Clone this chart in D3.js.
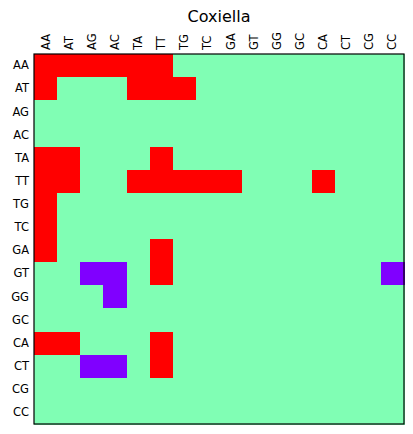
<!DOCTYPE html>
<html>
<head>
<meta charset="utf-8">
<script src="https://cdn.jsdelivr.net/npm/d3@7"></script>
<style>
  body { margin: 0; background: #fff; }
  text { font-family: "DejaVu Sans", sans-serif; fill: #000; }
</style>
</head>
<body>
<div id="chart"></div>
<script>
// Dinucleotide labels (same on both axes)
const labels = ["AA", "AT", "AG", "AC", "TA", "TT", "TG", "TC",
                "GA", "GT", "GG", "GC", "CA", "CT", "CG", "CC"];

// Matrix values: 1 = red, 0 = green, -1 = purple (one row per label)
const matrix = [
    [1, 1, 1, 1, 1, 1, 0, 0, 0, 0, 0, 0, 0, 0, 0, 0],
    [1, 0, 0, 0, 1, 1, 1, 0, 0, 0, 0, 0, 0, 0, 0, 0],
    [0, 0, 0, 0, 0, 0, 0, 0, 0, 0, 0, 0, 0, 0, 0, 0],
    [0, 0, 0, 0, 0, 0, 0, 0, 0, 0, 0, 0, 0, 0, 0, 0],
    [1, 1, 0, 0, 0, 1, 0, 0, 0, 0, 0, 0, 0, 0, 0, 0],
    [1, 1, 0, 0, 1, 1, 1, 1, 1, 0, 0, 0, 1, 0, 0, 0],
    [1, 0, 0, 0, 0, 0, 0, 0, 0, 0, 0, 0, 0, 0, 0, 0],
    [1, 0, 0, 0, 0, 0, 0, 0, 0, 0, 0, 0, 0, 0, 0, 0],
    [1, 0, 0, 0, 0, 1, 0, 0, 0, 0, 0, 0, 0, 0, 0, 0],
    [0, 0, -1, -1, 0, 1, 0, 0, 0, 0, 0, 0, 0, 0, 0, -1],
    [0, 0, 0, -1, 0, 0, 0, 0, 0, 0, 0, 0, 0, 0, 0, 0],
    [0, 0, 0, 0, 0, 0, 0, 0, 0, 0, 0, 0, 0, 0, 0, 0],
    [1, 1, 0, 0, 0, 1, 0, 0, 0, 0, 0, 0, 0, 0, 0, 0],
    [0, 0, -1, -1, 0, 1, 0, 0, 0, 0, 0, 0, 0, 0, 0, 0],
    [0, 0, 0, 0, 0, 0, 0, 0, 0, 0, 0, 0, 0, 0, 0, 0],
    [0, 0, 0, 0, 0, 0, 0, 0, 0, 0, 0, 0, 0, 0, 0, 0]
];

const title = "Coxiella";

const width = 413, height = 434;
const margin = { top: 54, right: 9, bottom: 10, left: 34 };
const size = 370;

const svg = d3.select("#chart").append("svg")
    .attr("width", width)
    .attr("height", height);

const x = d3.scaleBand().domain(labels).range([margin.left, margin.left + size]);
const y = d3.scaleBand().domain(labels).range([margin.top, margin.top + size]);

// rainbow-like colormap: -1 purple, 0 sea green, 1 red
const color = d3.scaleOrdinal().domain([-1, 0, 1]).range(["#8000ff", "#80feb4", "#ff0000"]);

const cells = [];
matrix.forEach((row, i) => row.forEach((v, j) => cells.push({ r: labels[i], c: labels[j], v: v })));

svg.append("g").selectAll("rect")
    .data(cells)
    .enter()
    .append("rect")
    .attr("x", d => x(d.c))
    .attr("y", d => y(d.r))
    .attr("width", x.bandwidth() + 0.5)
    .attr("height", y.bandwidth() + 0.5)
    .attr("fill", d => color(d.v))
    .attr("shape-rendering", "crispEdges");

// frame
svg.append("rect")
    .attr("x", margin.left)
    .attr("y", margin.top)
    .attr("width", size)
    .attr("height", size)
    .attr("fill", "none")
    .attr("stroke", "#000")
    .attr("stroke-width", 1.2);

// y tick labels
const yAxis = svg.append("g")
    .attr("transform", `translate(${margin.left},0)`)
    .call(d3.axisLeft(y).tickSize(0).tickPadding(5));
yAxis.select(".domain").remove();
yAxis.selectAll("text").style("font-size", "11.5px").style("font-family", "DejaVu Sans");

// x tick labels on top, rotated
const xAxis = svg.append("g")
    .attr("transform", `translate(0,${margin.top})`)
    .call(d3.axisTop(x).tickSize(0).tickPadding(5));
xAxis.select(".domain").remove();
xAxis.selectAll("text")
    .style("font-size", "11.5px")
    .style("font-family", "DejaVu Sans")
    .attr("text-anchor", "start")
    .attr("dy", "0.35em")
    .attr("transform", "rotate(-90)")
    .attr("x", 4)
    .attr("y", 0);

// title
svg.append("text")
    .attr("x", margin.left + size / 2)
    .attr("y", 22)
    .attr("text-anchor", "middle")
    .style("font-size", "16px")
    .text(title);
</script>
</body>
</html>
